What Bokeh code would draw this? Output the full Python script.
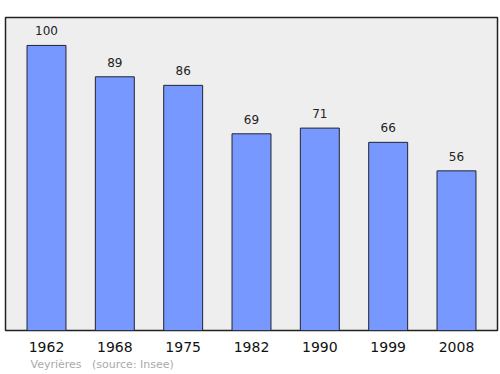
from bokeh.plotting import figure
from bokeh.models import ColumnDataSource, FixedTicker, Range1d, Title
from bokeh.core.properties import value
from bokeh.embed import file_html
from bokeh.resources import INLINE

years = ["1962", "1968", "1975", "1982", "1990", "1999", "2008"]
population = [100, 89, 86, 69, 71, 66, 56]
place = "Veyrières"
source_note = "(source: Insee)"

xs = list(range(len(years)))
src = ColumnDataSource(dict(x=xs, top=population, lab=[str(v) for v in population]))

p = figure(width=500, height=374, output_backend="svg", toolbar_location=None,
           x_range=Range1d(-0.6, 6.6), y_range=Range1d(0, 109.8),
           min_border_left=5, min_border_right=3, min_border_top=17, min_border_bottom=44)
p.background_fill_color = "#eeeeee"
p.border_fill_color = "white"
p.outline_line_color = "#222222"
p.outline_line_width = 1.5
p.grid.visible = False
p.yaxis.visible = False

p.vbar(x="x", top="top", bottom=0, width=0.57, source=src,
       fill_color="#7799ff", line_color="#222233", line_width=1)
p.text(x="x", y="top", text="lab", source=src, y_offset=-10,
       text_align="center", text_baseline="bottom",
       text_font=value("DejaVu Sans"), text_font_size="12px", text_color="#222222")

ax = p.xaxis[0]
ax.ticker = FixedTicker(ticks=xs)
ax.major_label_overrides = {i: y for i, y in zip(xs, years)}
ax.axis_line_color = None
ax.major_tick_line_color = None
ax.minor_tick_line_color = None
ax.major_tick_out = 0
ax.major_tick_in = 0
ax.major_label_standoff = 11
ax.major_label_text_font = "DejaVu Sans"
ax.major_label_text_font_size = "14px"
ax.major_label_text_color = "#111111"

nb = "\u00a0"
p.add_layout(Title(text=place + nb * 3 + source_note, align="left", offset=25,
                   text_font="DejaVu Sans", text_font_size="11px", text_font_style="normal",
                   text_color="#aaaaaa", standoff=3), "below")

open("out.html", "w").write(file_html(p, INLINE))
